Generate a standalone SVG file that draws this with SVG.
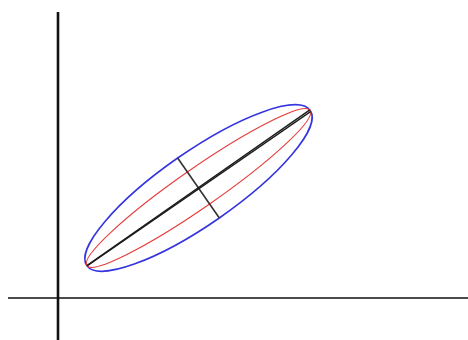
<svg xmlns="http://www.w3.org/2000/svg" width="468" height="340" viewBox="0 0 468 340">
<style>
.axis{stroke:#111;fill:none}
.blue{stroke:#3535e0;stroke-width:1.6;fill:none}
.red{stroke:#e63a3a;stroke-width:1.1;fill:none}
.major{stroke:#1a1a1a;stroke-width:1.3;fill:none}
.minor{stroke:#333;stroke-width:1.6;fill:none}
</style>
<rect width="468" height="340" fill="#fff"/>
<g id="axes">
<line class="axis" x1="58" y1="12" x2="58" y2="340" stroke-width="2.6"/>
<line class="axis" x1="8" y1="298" x2="468" y2="298" stroke-width="1.6"/>
</g>
<g id="ellipses" transform="translate(198.5,188) rotate(-34.8)">
<ellipse id="blue-ellipse" class="blue" cx="0" cy="0" rx="136" ry="36.5"/>
<ellipse id="red-ellipse" class="red" cx="0" cy="0" rx="136" ry="19.5"/>
<line class="minor" x1="0" y1="-36.5" x2="0" y2="36.5"/>
<line class="major" x1="-136" y1="0" x2="136" y2="-0.6"/>
<line class="major" x1="-136" y1="0.4" x2="136" y2="1.2"/>
</g>
</svg>
